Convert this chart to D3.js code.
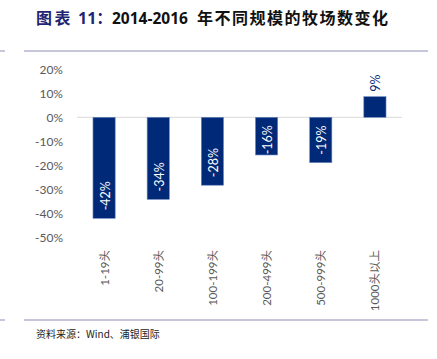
<!DOCTYPE html>
<html><head><meta charset="utf-8">
<script src="https://cdn.jsdelivr.net/npm/d3@7"></script>
<style>body{margin:0;background:#fff}</style>
</head><body>
<script>
const categories = ["1-19头","20-99头","100-199头","200-499头","500-999头","1000头以上"];
const values = [-42.1,-34.2,-28.3,-15.7,-18.9,8.6];
const valueLabels = ["-42%","-34%","-28%","-16%","-19%","9%"];
const yTicks = [20,10,0,-10,-20,-30,-40,-50];

const W=437,H=359;
const svg=d3.select("body").append("svg").attr("width",W).attr("height",H);
const font="'Lato','Liberation Sans','Noto Sans CJK SC',sans-serif";

// title
const t=svg.append("text").attr("y",24).attr("font-weight","bold")
  .attr("font-family","'Open Sans','Noto Sans CJK SC',sans-serif");
t.append("tspan").attr("x",36).attr("font-size",16).attr("letter-spacing",2.5).attr("fill","#1f2573").text("图表");
t.append("tspan").attr("x",78).attr("font-size",16).attr("fill","#1f2573").text("11：");
t.append("tspan").attr("x",112).attr("font-size",15.5).attr("fill","#111").text("2014-2016");
t.append("tspan").attr("x",197).attr("font-size",16).attr("letter-spacing",1.5).attr("fill","#111").text("年不同规模的牧场数变化");

// rules
[51,320].forEach(yy=>{
  svg.append("line").attr("x1",0).attr("x2",5).attr("y1",yy).attr("y2",yy).attr("stroke","#8f8fb8").attr("stroke-width",1);
  svg.append("line").attr("x1",24).attr("x2",428).attr("y1",yy).attr("y2",yy).attr("stroke","#8f8fb8").attr("stroke-width",1);
});
svg.append("text").attr("x",36).attr("y",338).attr("font-size",10).attr("fill","#222")
  .attr("font-family","'Noto Sans CJK SC',sans-serif").text("资料来源：Wind、浦银国际");

const x=d3.scaleBand().domain(categories).range([77,402]).paddingInner(0.59).paddingOuter(0.295);
const y=d3.scaleLinear().domain([-50,20]).range([237.3,69.3]);

// y axis labels
const yAxis=d3.axisLeft(y).tickValues(yTicks).tickFormat(d=>d+"%").tickSize(0).tickPadding(0);
const ya=svg.append("g").attr("transform","translate(63,0)").call(yAxis);
ya.select(".domain").remove();
ya.selectAll("text").attr("font-size",12).attr("fill","#595959").attr("font-family",font);

// zero line
svg.append("line").attr("x1",77).attr("x2",402).attr("y1",y(0)).attr("y2",y(0)).attr("stroke","#d9d9d9").attr("stroke-width",1);

// bars
svg.selectAll("rect.bar").data(values).join("rect").attr("class","bar")
  .attr("x",(d,i)=>x(categories[i])).attr("width",x.bandwidth())
  .attr("y",d=>y(Math.max(0,d))).attr("height",d=>Math.abs(y(d)-y(0)))
  .attr("fill","#002a78").attr("stroke","#7089bd").attr("stroke-width",0.6);

// value labels
svg.selectAll("text.val").data(values).join("text").attr("class","val")
  .attr("font-size",12.5).attr("font-family",font)
  .attr("dominant-baseline","central")
  .attr("fill",d=>d<0?"#fff":"#002a78")
  .attr("transform",(d,i)=>{
    const cx=x(categories[i])+x.bandwidth()/2+1;
    let yy;
    if(d<0){ yy=Math.max(y(0)+37, y(d)-8); }
    else { yy=y(d)-5; }
    return `translate(${cx},${yy}) rotate(-90)`;
  })
  .attr("text-anchor","start")
  .text((d,i)=>valueLabels[i]);

// x axis labels
const xAxis=d3.axisBottom(x).tickSize(0).tickPadding(0);
const xa=svg.append("g").attr("transform","translate(0,250)").call(xAxis);
xa.select(".domain").remove();
xa.selectAll("text").attr("font-size",11.5).attr("fill","#595959").attr("font-family",font)
  .attr("text-anchor","end").attr("dy",null).attr("dominant-baseline","central")
  .attr("transform","rotate(-90)").attr("x",0).attr("y",0);
</script>
</body></html>
